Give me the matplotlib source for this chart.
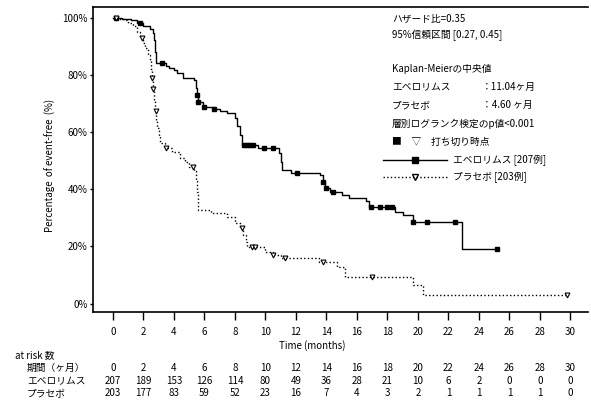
import matplotlib.pyplot as plt
import numpy as np
from matplotlib.lines import Line2D
from matplotlib.transforms import blended_transform_factory

plt.rcParams["font.family"] = ["Noto Sans CJK JP", "DejaVu Sans"]

# Kaplan-Meier 曲線 (時間[月], 無増悪生存率[%])
evero_t = [0, 0.6, 1.2, 1.6, 2.0, 2.4, 2.6, 2.7, 2.75, 2.8, 3.5, 3.7, 4.0, 4.2, 4.6,
           5.3, 5.45, 5.5, 5.55, 5.9, 6.6, 7.0, 7.5, 8.0, 8.15, 8.3, 8.45, 9.5,
           10.9, 11.0, 11.1, 11.7, 13.6, 13.75, 13.9, 14.2, 15.0, 15.5, 16.6,
           16.8, 18.5, 19.0, 19.7, 22.9]
evero_s = [100, 99.5, 99, 98, 97, 96, 94.5, 92, 88, 84, 83, 82.5, 81.5, 80.5, 79,
           78, 75.5, 73, 70.5, 68.7, 68.2, 67.5, 66.5, 64.8, 62, 59, 55.5, 54.3,
           52.5, 49.5, 46.8, 45.6, 44.8, 42.5, 40.5, 39, 38, 37, 35.8,
           33.8, 32, 31, 28.5, 19]
evero_end = 25.2
evero_cens = [0.2, 1.8, 3.2, 5.5, 5.6, 6.0, 6.6, 8.6, 8.8, 9.0, 9.2, 9.9, 10.5,
              12.1, 13.8, 14.0, 14.4, 16.9, 17.5, 18.0, 18.3, 19.7, 20.6, 22.4,
              25.2]

placebo_t = [0, 0.4, 0.7, 1.0, 1.3, 1.6, 1.8, 2.0, 2.1, 2.3, 2.4, 2.5, 2.55, 2.6,
             2.7, 2.75, 2.85, 2.9, 3.0, 3.1, 3.4, 3.9, 4.4, 4.7, 5.0, 5.3, 5.45,
             5.5, 5.55, 5.6, 6.4, 7.5, 8.0, 8.3, 8.5, 8.7, 8.8, 10.0, 10.5, 11.0,
             13.5, 14.7, 15.2, 19.7, 20.3]
placebo_s = [100, 99.5, 99, 98, 97, 95, 93, 91, 89.5, 87, 85, 82, 79, 75,
             71, 67.5, 64, 61.5, 58.5, 56, 54.4, 53, 51, 49.5, 47.8, 46.5, 43,
             39, 35, 32.6, 31.6, 30.2, 28, 26.5, 24, 21.5, 19.8, 18, 17, 15.9,
             14.5, 12.8, 9.3, 6.5, 3.0]
placebo_end = 29.8
placebo_cens = [0.2, 1.9, 2.55, 2.65, 2.8, 3.5, 5.25, 8.45, 9.1, 9.3, 10.5, 11.3,
                13.8, 17.0, 29.8]

# at risk 数
risk_months = [0, 2, 4, 6, 8, 10, 12, 14, 16, 18, 20, 22, 24, 26, 28, 30]
risk_evero = [207, 189, 153, 126, 114, 80, 49, 36, 28, 21, 10, 6, 2, 0, 0, 0]
risk_placebo = [203, 177, 83, 59, 52, 23, 16, 7, 4, 3, 2, 1, 1, 1, 1, 0]

FS = 7


def surv_at(times, surv, t):
    idx = np.searchsorted(times, t, side="right") - 1
    return np.asarray(surv)[idx]


fig = plt.figure(figsize=(5.91, 4.12), dpi=100)
ax = fig.add_axes([93 / 591, 1 - 312 / 412, (588 - 93) / 591, (312 - 7) / 412])

ax.step(evero_t + [evero_end], evero_s + [evero_s[-1]], where="post",
        color="black", lw=1.0, ls="-")
ax.step(placebo_t + [placebo_end], placebo_s + [placebo_s[-1]], where="post",
        color="black", lw=1.0, ls=":")

ax.plot(evero_cens, surv_at(evero_t, evero_s, evero_cens), ls="none",
        marker="s", ms=3, mfc="black", mec="black")
ax.plot(placebo_cens, surv_at(placebo_t, placebo_s, placebo_cens), ls="none",
        marker="v", ms=3.5, mfc="white", mec="black", mew=0.8)

ax.set_xlim(-1.31, 31.15)
ax.set_ylim(-2.97, 103.7)
ax.set_xticks(risk_months)
ax.set_xticklabels([str(m) for m in risk_months], fontsize=FS)
ax.set_yticks([0, 20, 40, 60, 80, 100])
ax.set_yticklabels(["0%", "20%", "40%", "60%", "80%", "100%"], fontsize=FS)
ax.tick_params(axis="x", direction="out", length=6, width=1, pad=5)
ax.tick_params(axis="y", direction="out", length=2, width=1, pad=2)
ax.spines["right"].set_visible(False)
for sp in ["top", "left", "bottom"]:
    ax.spines[sp].set_linewidth(1.2)

fig.text(50 / 591, 1 - 165 / 412, "Percentage  of event-free  (%)", rotation=90,
         ha="center", va="center", fontsize=FS)
fig.text(312 / 591, 1 - 346 / 412, "Time (months)", ha="center", va="center",
         fontsize=FS)

# 右上の注記
tx = 392 / 591
notes = [
    (19, "ハザード比=0.35"),
    (35, "95%信頼区間 [0.27, 0.45]"),
    (69, "Kaplan-Meierの中央値"),
    (87, "エベロリムス"),
    (105, "プラセボ"),
    (124, "層別ログランク検定のp値<0.001"),
    (142, "■　▽　打ち切り時点"),
]
for y, s in notes:
    fig.text(tx, 1 - y / 412, s, ha="left", va="center", fontsize=FS)
fig.text(482 / 591, 1 - 87 / 412, "：11.04ヶ月", ha="left", va="center", fontsize=FS)
fig.text(482 / 591, 1 - 105 / 412, "：4.60 ヶ月", ha="left", va="center", fontsize=FS)

# 凡例
for y, ls, mk, fc, label in [
    (160, "-", "s", "black", "エベロリムス [207例]"),
    (177, ":", "v", "white", "プラセボ [203例]"),
]:
    yf = 1 - y / 412
    fig.add_artist(Line2D([383 / 591, 447 / 591], [yf, yf], color="black",
                          lw=1.0, ls=ls, transform=fig.transFigure))
    fig.add_artist(Line2D([415 / 591], [yf], marker=mk, ms=4, mfc=fc,
                          mec="black", transform=fig.transFigure))
    fig.text(453 / 591, yf, label, ha="left", va="center", fontsize=FS)

# at risk 表
tr = blended_transform_factory(ax.transData, fig.transFigure)
fig.text(15 / 591, 1 - 355 / 412, "at risk 数", ha="left", va="center", fontsize=FS)
rows = [(368, "期間（ヶ月）", risk_months),
        (381, "エベロリムス", risk_evero),
        (393, "プラセボ", risk_placebo)]
for y, name, vals in rows:
    yf = 1 - y / 412
    fig.text(27 / 591, yf, name, ha="left", va="center", fontsize=FS)
    for m, v in zip(risk_months, vals):
        ax.text(m, yf, str(v), transform=tr, ha="center", va="center",
                fontsize=FS, clip_on=False)

fig.savefig("out.png", dpi=100)
